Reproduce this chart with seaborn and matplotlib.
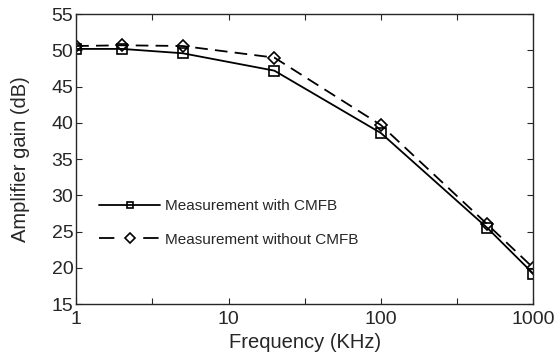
import matplotlib
matplotlib.use("Agg")
import matplotlib.pyplot as plt
import seaborn as sns
import pandas as pd
import numpy as np

freq = [1, 2, 5, 20, 100, 500, 1000]
gain_with = [50.2, 50.2, 49.6, 47.2, 38.6, 25.5, 19.2]
gain_without = [50.6, 50.7, 50.6, 49.0, 39.7, 26.0, 20.0]
labels = ["Measurement with CMFB", "Measurement without CMFB"]

sns.set_style("ticks")
plt.rcParams['font.family'] = ['Liberation Sans', 'DejaVu Sans']

df = pd.DataFrame({
    "freq": freq * 2,
    "gain": gain_with + gain_without,
    "series": [labels[0]] * len(freq) + [labels[1]] * len(freq),
})

fig = plt.figure(figsize=(5.56, 3.62), dpi=100)
ax = fig.add_axes([0.137, 0.160, 0.822, 0.801])

ax = sns.lineplot(data=df, x="freq", y="gain", style="series", markers=["s", "D"],
                  dashes=[(None, None), (7, 4)], color="black", lw=1.3,
                  markersize=6.5, markerfacecolor="none", markeredgecolor="black",
                  markeredgewidth=1.2, ax=ax)
# diamond a bit narrower
for ln in ax.lines[1:2]:
    ln.set_markersize(6)

ax.set_xscale("log")
ax.set_xlim(1, 1000)
ax.set_ylim(15, 55)
ax.set_xticks([1, 10, 100, 1000])
ax.set_xticklabels(["1", "10", "100", "1000"])
ax.set_xticks([10 ** 0.5, 10 ** 1.5, 10 ** 2.5], minor=True)
ax.set_xticklabels([], minor=True)
ax.set_yticks(range(15, 56, 5))
ax.tick_params(which="both", direction="in", top=True, right=True, labelsize=14, length=4, width=0.8)
ax.tick_params(axis="y", which="major", pad=2)
ax.tick_params(axis="x", which="major", pad=5)
for s in ax.spines.values():
    s.set_linewidth(1.0)

ax.set_xlabel("Frequency (KHz)", fontsize=14.5)
ax.set_ylabel("Amplifier gain (dB)", fontsize=14.5)
ax.xaxis.set_label_coords(0.5, -0.10)
ax.yaxis.set_label_coords(-0.10, 0.5)

leg = ax.legend(loc="upper left", bbox_to_anchor=(0.02, 0.41), frameon=False,
                fontsize=11, handlelength=4.0, handletextpad=0.3, labelspacing=1.3, title=None)
for h in leg.legend_handles:
    h.set_markersize(5)
# dash - marker - dash look in the legend
leg.legend_handles[1].set_dashes((8.5, 16))

fig.savefig("out.png", dpi=100)
